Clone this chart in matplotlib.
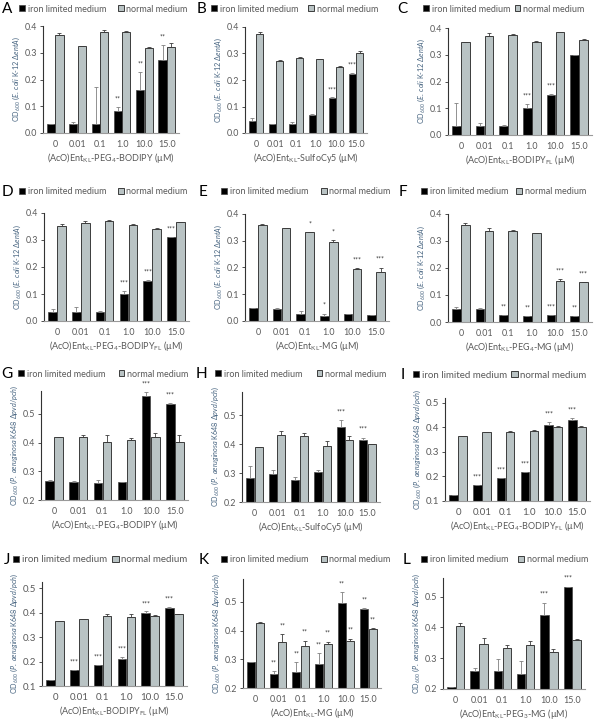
import matplotlib
matplotlib.use("Agg")
import matplotlib.pyplot as plt
from matplotlib.ticker import MultipleLocator

plt.rcParams['font.family'] = ['Lato', 'DejaVu Sans']
plt.rcParams['mathtext.fontset'] = 'custom'
plt.rcParams['mathtext.rm'] = 'Lato'
plt.rcParams['mathtext.it'] = 'Lato:italic'
plt.rcParams['mathtext.bf'] = 'Lato:bold'
plt.rcParams['mathtext.default'] = 'regular'

conc = ['0', '0.01', '0.1', '1.0', '10.0', '15.0']

# E. coli K-12 entA
a_iron = [0.035, 0.035, 0.035, 0.083, 0.16, 0.272]
a_iron_err = [0.0, 0.005, 0.138, 0.015, 0.068, 0.058]
a_norm = [0.365, 0.325, 0.378, 0.377, 0.318, 0.32]
a_norm_err = [0.01, 0.002, 0.007, 0.003, 0.002, 0.018]
a_sig = ['', '', '', '**', '**', '**']

b_iron = [0.047, 0.033, 0.033, 0.067, 0.133, 0.223]
b_iron_err = [0.011, 0.002, 0.009, 0.003, 0.001, 0.002]
b_norm = [0.372, 0.272, 0.283, 0.28, 0.248, 0.302]
b_norm_err = [0.008, 0.004, 0.004, 0.001, 0.005, 0.008]
b_sig = ['', '', '', '', '***', '***']

c_iron = [0.032, 0.033, 0.035, 0.1, 0.148, 0.3]
c_iron_err = [0.088, 0.01, 0.002, 0.015, 0.005, 0.0]
c_norm = [0.347, 0.37, 0.372, 0.348, 0.385, 0.357]
c_norm_err = [0.001, 0.01, 0.004, 0.002, 0.001, 0.001]
c_sig = ['', '', '', '***', '***', '']

d_iron = [0.035, 0.035, 0.035, 0.1, 0.15, 0.31]
d_iron_err = [0.008, 0.017, 0.003, 0.01, 0.002, 0.0]
d_norm = [0.352, 0.362, 0.372, 0.357, 0.342, 0.365]
d_norm_err = [0.008, 0.008, 0.003, 0.001, 0.003, 0.001]
d_sig = ['', '', '', '***', '***', '***']

e_iron = [0.048, 0.046, 0.028, 0.018, 0.025, 0.022]
e_iron_err = [0.0, 0.004, 0.009, 0.01, 0.0, 0.0]
e_norm = [0.36, 0.346, 0.333, 0.297, 0.195, 0.185]
e_norm_err = [0.001, 0.003, 0.0, 0.005, 0.003, 0.015]
e_sig = ['', '', '', '*', '', '']
e_norm_sig = ['', '', '*', '*', '***', '***']

f_iron = [0.05, 0.047, 0.027, 0.022, 0.025, 0.022]
f_iron_err = [0.005, 0.006, 0.0, 0.0, 0.0, 0.0]
f_norm = [0.36, 0.338, 0.337, 0.328, 0.152, 0.147]
f_norm_err = [0.005, 0.009, 0.003, 0.003, 0.006, 0.002]
f_sig = ['', '', '**', '**', '***', '**']
f_norm_sig = ['', '', '', '', '***', '***']

# P. aeruginosa K648 pvd/pch
g_iron = [0.265, 0.262, 0.26, 0.262, 0.562, 0.535]
g_iron_err = [0.003, 0.003, 0.008, 0.002, 0.013, 0.002]
g_norm = [0.418, 0.42, 0.403, 0.408, 0.42, 0.402]
g_norm_err = [0.001, 0.008, 0.024, 0.007, 0.013, 0.026]
g_sig = ['', '', '', '', '***', '***']

h_iron = [0.282, 0.298, 0.277, 0.305, 0.46, 0.413]
h_iron_err = [0.041, 0.012, 0.008, 0.007, 0.022, 0.009]
h_norm = [0.39, 0.43, 0.428, 0.395, 0.415, 0.402]
h_norm_err = [0.0, 0.016, 0.012, 0.016, 0.013, 0.0]
h_sig = ['', '', '', '', '***', '***']

i_iron = [0.125, 0.165, 0.195, 0.22, 0.41, 0.43]
i_iron_err = [0.0, 0.0, 0.0, 0.0, 0.012, 0.01]
i_norm = [0.365, 0.38, 0.382, 0.387, 0.4, 0.4]
i_norm_err = [0.001, 0.001, 0.004, 0.003, 0.005, 0.005]
i_sig = ['', '***', '***', '***', '***', '***']

j_iron = [0.125, 0.165, 0.185, 0.21, 0.4, 0.42]
j_iron_err = [0.0, 0.0, 0.0, 0.01, 0.005, 0.003]
j_norm = [0.365, 0.372, 0.385, 0.383, 0.388, 0.393]
j_norm_err = [0.001, 0.001, 0.01, 0.01, 0.001, 0.001]
j_sig = ['', '***', '***', '***', '***', '***']

k_iron = [0.29, 0.25, 0.257, 0.285, 0.495, 0.477]
k_iron_err = [0.0, 0.008, 0.033, 0.038, 0.038, 0.003]
k_norm = [0.428, 0.362, 0.348, 0.355, 0.365, 0.405]
k_norm_err = [0.002, 0.026, 0.017, 0.007, 0.007, 0.005]
k_sig = ['', '**', '**', '**', '**', '**']
k_norm_sig = ['', '**', '**', '**', '**', '**']

l_iron = [0.205, 0.258, 0.258, 0.25, 0.44, 0.532]
l_iron_err = [0.0, 0.01, 0.04, 0.042, 0.04, 0.0]
l_norm = [0.405, 0.345, 0.332, 0.342, 0.32, 0.358]
l_norm_err = [0.01, 0.022, 0.011, 0.013, 0.01, 0.004]
l_sig = ['', '', '', '', '***', '***']

none = [''] * 6

ecoli_lab = r'OD$_{600}$ ($\mathit{E.\ coli}$ K-12 $\mathit{\Delta entA}$)'
pa_lab = r'OD$_{600}$ ($\mathit{P.\ aeruginosa}$ K648 $\mathit{\Delta pvd/pch}$)'

W, H = 594, 720
fig = plt.figure(figsize=(W / 100, H / 100), dpi=100)

TXT = '#595959'
YLAB = '#44627f'


def px_axes(l, r, top, bot):
    return fig.add_axes([l / W, 1 - bot / H, (r - l) / W, (bot - top) / H])


def panel(letter, rect, iron, iron_err, norm, norm_err, sig, norm_sig,
          ylim, ystep, ylabel, xlabel, lx, ly, leg_x, colsp, big=False):
    ax = px_axes(*rect)
    x = range(len(conc))
    xi = [v - 0.19 for v in x]
    xn = [v + 0.19 for v in x]
    b1 = ax.bar(xi, iron, width=0.36, color='black', edgecolor='#444444', linewidth=0.5)
    b2 = ax.bar(xn, norm, width=0.36, color='#b9c3c4', edgecolor='#3c3c3c', linewidth=0.7)
    ax.errorbar(xi, iron, yerr=[[0] * 6, iron_err], fmt='none', ecolor='#808080',
                elinewidth=0.6, capsize=1.6, capthick=0.6)
    ax.errorbar(xn, norm, yerr=[[0] * 6, norm_err], fmt='none', ecolor='#3c3c3c',
                elinewidth=0.6, capsize=1.6, capthick=0.6)
    rng = ylim[1] - ylim[0]
    for xs, vals, errs, s in [(xi, iron, iron_err, sig), (xn, norm, norm_err, norm_sig)]:
        for xx, v, e, t in zip(xs, vals, errs, s):
            if t:
                ax.text(xx, v + e + 0.075 * rng, t, ha='center', va='center',
                        fontsize=5, color='#333333', clip_on=False)
    ax.set_xlim(-0.55, 5.55)
    ax.set_ylim(*ylim)
    ax.yaxis.set_major_locator(MultipleLocator(ystep))
    ax.set_xticks(list(x))
    fs = 7 if big else 6.4
    ax.set_xticklabels(conc, fontsize=fs, color=TXT)
    ax.tick_params(axis='x', length=0, pad=5)
    ax.tick_params(axis='y', labelsize=fs, labelcolor=TXT, length=2, width=0.6,
                   color='#333333', pad=2)
    ax.yaxis.set_major_formatter(matplotlib.ticker.FormatStrFormatter('%.1f'))
    for s in ['top', 'right']:
        ax.spines[s].set_visible(False)
    ax.spines['left'].set_color('#333333')
    ax.spines['left'].set_linewidth(0.8)
    ax.spines['bottom'].set_color('#9a9a9a')
    ax.spines['bottom'].set_linewidth(0.8)
    ax.set_xlabel(xlabel, fontsize=6.5, color=TXT, labelpad=1.5)
    ax.set_ylabel(ylabel, fontsize=5.2, color=YLAB, labelpad=2)
    fig.text(lx / W, 1 - ly / H, letter, fontsize=11, ha='left', va='center', color='black')
    ax.legend([b1, b2], ['iron limited medium', 'normal medium'], ncol=2, frameon=False,
              loc='center left', bbox_to_anchor=(leg_x / W, 1 - ly / H),
              bbox_transform=fig.transFigure, fontsize=7.0 if big else 6.5,
              labelcolor=TXT, handlelength=0.65, handleheight=0.65, handletextpad=0.3,
              columnspacing=colsp, borderpad=0, borderaxespad=0)
    return ax


ec = (0, 0.4)
panel('A', (43, 179, 26, 133), a_iron, a_iron_err, a_norm, a_norm_err, a_sig, none,
      ec, 0.1, ecoli_lab, r'(AcO)Ent$_{KL}$-PEG$_{4}$-BODIPY (µM)', 2, 9, 19, 1.3)
panel('B', (245, 367, 27, 133), b_iron, b_iron_err, b_norm, b_norm_err, b_sig, none,
      ec, 0.1, ecoli_lab, r'(AcO)Ent$_{KL}$-SulfoCy5 (µM)', 197, 9, 211, 1.1)
panel('C', (448, 592, 28, 135), c_iron, c_iron_err, c_norm, c_norm_err, c_sig, none,
      ec, 0.1, ecoli_lab, r'(AcO)Ent$_{KL}$-BODIPY$_{FL}$ (µM)', 397, 9, 423, 0.5)
panel('D', (44, 189, 213, 321), d_iron, d_iron_err, d_norm, d_norm_err, d_sig, none,
      ec, 0.1, ecoli_lab, r'(AcO)Ent$_{KL}$-PEG$_{4}$-BODIPY$_{FL}$ (µM)', 2, 192, 19, 1.3)
panel('E', (245, 389, 214, 321), e_iron, e_iron_err, e_norm, e_norm_err, e_sig, e_norm_sig,
      ec, 0.1, ecoli_lab, r'(AcO)Ent$_{KL}$-MG (µM)', 199, 192, 221, 1.4)
panel('F', (448, 592, 214, 322), f_iron, f_iron_err, f_norm, f_norm_err, f_sig, f_norm_sig,
      ec, 0.1, ecoli_lab, r'(AcO)Ent$_{KL}$-PEG$_{4}$-MG (µM)', 399, 192, 421, 0.9)
panel('G', (41, 188, 391, 500), g_iron, g_iron_err, g_norm, g_norm_err, g_sig, none,
      (0.2, 0.58), 0.1, pa_lab, r'(AcO)Ent$_{KL}$-PEG$_{4}$-BODIPY (µM)', 1, 374, 18, 1.5)
panel('H', (242, 380, 392, 502), h_iron, h_iron_err, h_norm, h_norm_err, h_sig, none,
      (0.2, 0.58), 0.1, pa_lab, r'(AcO)Ent$_{KL}$-SulfoCy5 (µM)', 196, 374, 215, 1.6)
panel('I', (445, 590, 398, 501), i_iron, i_iron_err, i_norm, i_norm_err, i_sig, none,
      (0.1, 0.52), 0.1, pa_lab, r'(AcO)Ent$_{KL}$-PEG$_{4}$-BODIPY$_{FL}$ (µM)', 401, 375, 413, 0.4,
      big=True)
panel('J', (42, 187, 582, 686), j_iron, j_iron_err, j_norm, j_norm_err, j_sig, none,
      (0.1, 0.525), 0.1, pa_lab, r'(AcO)Ent$_{KL}$-BODIPY$_{FL}$ (µM)', 4, 560, 13, 0.5,
      big=True)
panel('K', (243, 381, 579, 688), k_iron, k_iron_err, k_norm, k_norm_err, k_sig, k_norm_sig,
      (0.2, 0.58), 0.1, pa_lab, r'(AcO)Ent$_{KL}$-MG (µM)', 199, 560, 221, 1.4)
panel('L', (443, 585, 578, 689), l_iron, l_iron_err, l_norm, l_norm_err, l_sig, none,
      (0.2, 0.56), 0.1, pa_lab, r'(AcO)Ent$_{KL}$-PEG$_{3}$-MG (µM)', 403, 560, 421, 1.1)

fig.savefig('out.png', dpi=100)
